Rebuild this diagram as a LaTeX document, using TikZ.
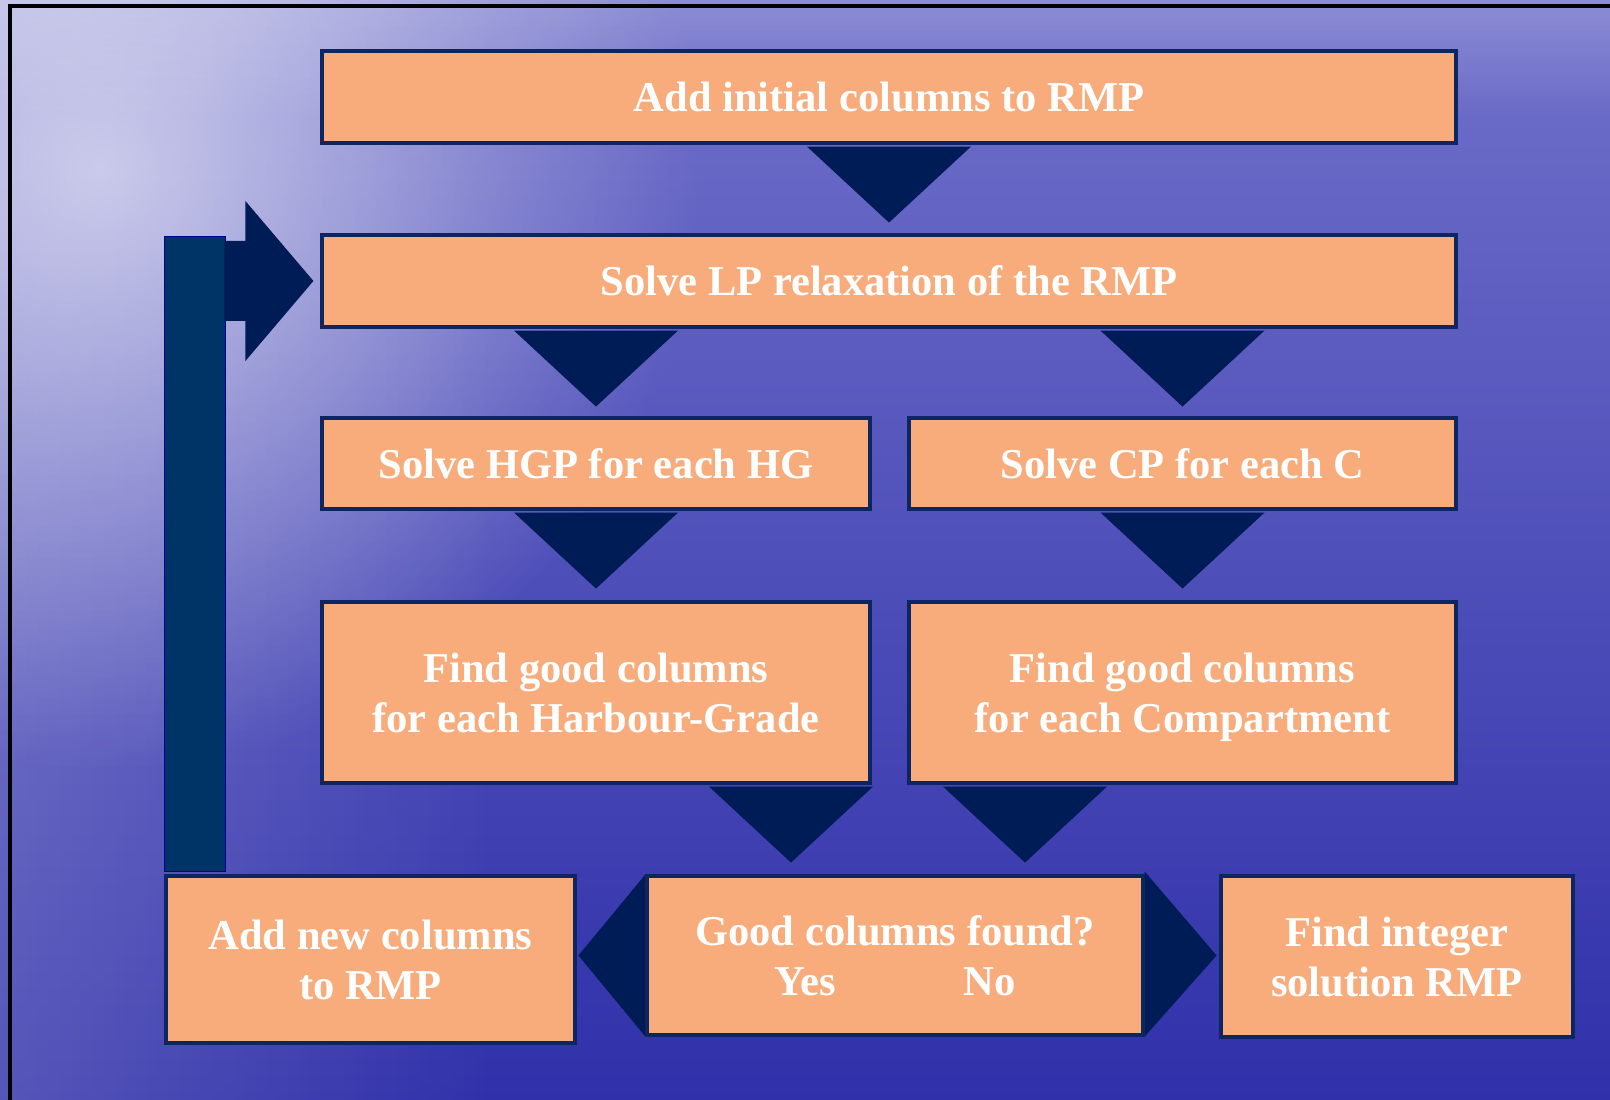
\documentclass[tikz,border=0pt]{standalone}
\usepackage{fontspec}
\setmainfont{Liberation Serif}
\usepackage{tikz}
\usetikzlibrary{calc,backgrounds,fadings}

\definecolor{peach}{RGB}{248,172,124}
\definecolor{navy}{RGB}{0,28,87}
\definecolor{rim}{RGB}{12,38,98}
\definecolor{barblue}{RGB}{0,51,102}
\definecolor{seatop}{RGB}{112,112,202}
\definecolor{seamid}{RGB}{64,64,182}
\definecolor{seabot}{RGB}{48,48,170}

\tikzfading[name=glow,inner color=transparent!0,outer color=transparent!100]

\newcommand{\downtri}[1]{\fill[tri] ($(#1)+(-0.82,-0.02)$) -- ($(#1)+(0.82,-0.02)$) -- ($(#1)+(0,-0.78)$) -- cycle;}

\begin{document}
\begin{tikzpicture}[blk/.style={draw=rim,line width=0.9pt,fill=peach,text=white,align=center,
      font=\bfseries\fontsize{12.1}{14.3}\selectfont,inner sep=0pt,text depth=0pt},
    tri/.style={fill=navy}]
\useasboundingbox (0,0) rectangle (16.1,11);
\begin{scope}[on background layer]
\shade[top color=seatop,middle color=seamid,bottom color=seabot] (0,0) rectangle (16.1,11);
\fill[white,opacity=0.18,path fading=east] (0,0) rectangle (5,11);
\fill[white,opacity=0.6,path fading=glow] (1,9.3) circle (6);
\fill[white,opacity=0.2,path fading=south] (0,9.8) rectangle (16.1,11);
\end{scope}
\draw[black,line width=0.9pt] (0.10,0) -- (0.10,10.94) -- (16.1,10.94);

\node[blk,minimum width=11.34cm,minimum height=0.92cm] (init) at (8.89,10.03) {Add initial columns to RMP};
\node[blk,minimum width=11.34cm,minimum height=0.92cm] (lp) at (8.89,8.19) {Solve LP relaxation of the RMP};
\node[blk,minimum width=5.48cm,minimum height=0.91cm] (hgp) at (5.96,6.365) {Solve HGP for each HG};
\node[blk,minimum width=5.47cm,minimum height=0.91cm] (cp) at (11.825,6.365) {Solve CP for each C};
\node[blk,minimum width=5.48cm,minimum height=1.81cm] (hgcol) at (5.96,4.075) {Find good columns\\for each Harbour-Grade};
\node[blk,minimum width=5.47cm,minimum height=1.81cm] (ccol) at (11.825,4.075) {Find good columns\\for each Compartment};
\node[blk,minimum width=4.96cm,minimum height=1.59cm] (found) at (8.95,1.445) {Good columns found?\\Yes\hspace{1.28cm}No};
\node[blk,minimum width=4.09cm,minimum height=1.67cm] (addnew) at (3.705,1.405) {Add new columns\\to RMP};
\node[blk,minimum width=3.52cm,minimum height=1.61cm] (intsol) at (13.97,1.435) {Find integer\\solution RMP};

\coordinate (t4l) at ($(found.north)+(-1.04,0)$);
\coordinate (t4r) at ($(found.north)+(1.30,0)$);
\begin{scope}[on background layer]
\downtri{init.south}
\downtri{hgp.north |- lp.south}
\downtri{cp.north |- lp.south}
\downtri{hgp.south}
\downtri{cp.south}
\downtri{t4l |- hgcol.south}
\downtri{t4r |- ccol.south}
\fill[tri] (found.north west) -- ($(found.west)+(-0.67,0)$) -- (found.south west) -- cycle;
\fill[tri] ($(found.north east)+(0,0.03)$) -- ($(found.east)+(0.72,0)$) -- (found.south east) -- cycle;
\end{scope}

% loop back to the LP
\draw[fill=barblue,draw=blue!60!black,line width=0.5pt] ($(addnew.north west)+(0,0.03)$) rectangle ($(addnew.north west)+(0.61,6.38)$);
\fill[tri] ($(lp.west)+(-0.07,0)$) -- ++(-0.68,0.8) -- ++(0,-0.4) -- ++(-0.21,0) -- ++(0,-0.8) -- ++(0.21,0) -- ++(0,-0.4) -- cycle;
\end{tikzpicture}
\end{document}
